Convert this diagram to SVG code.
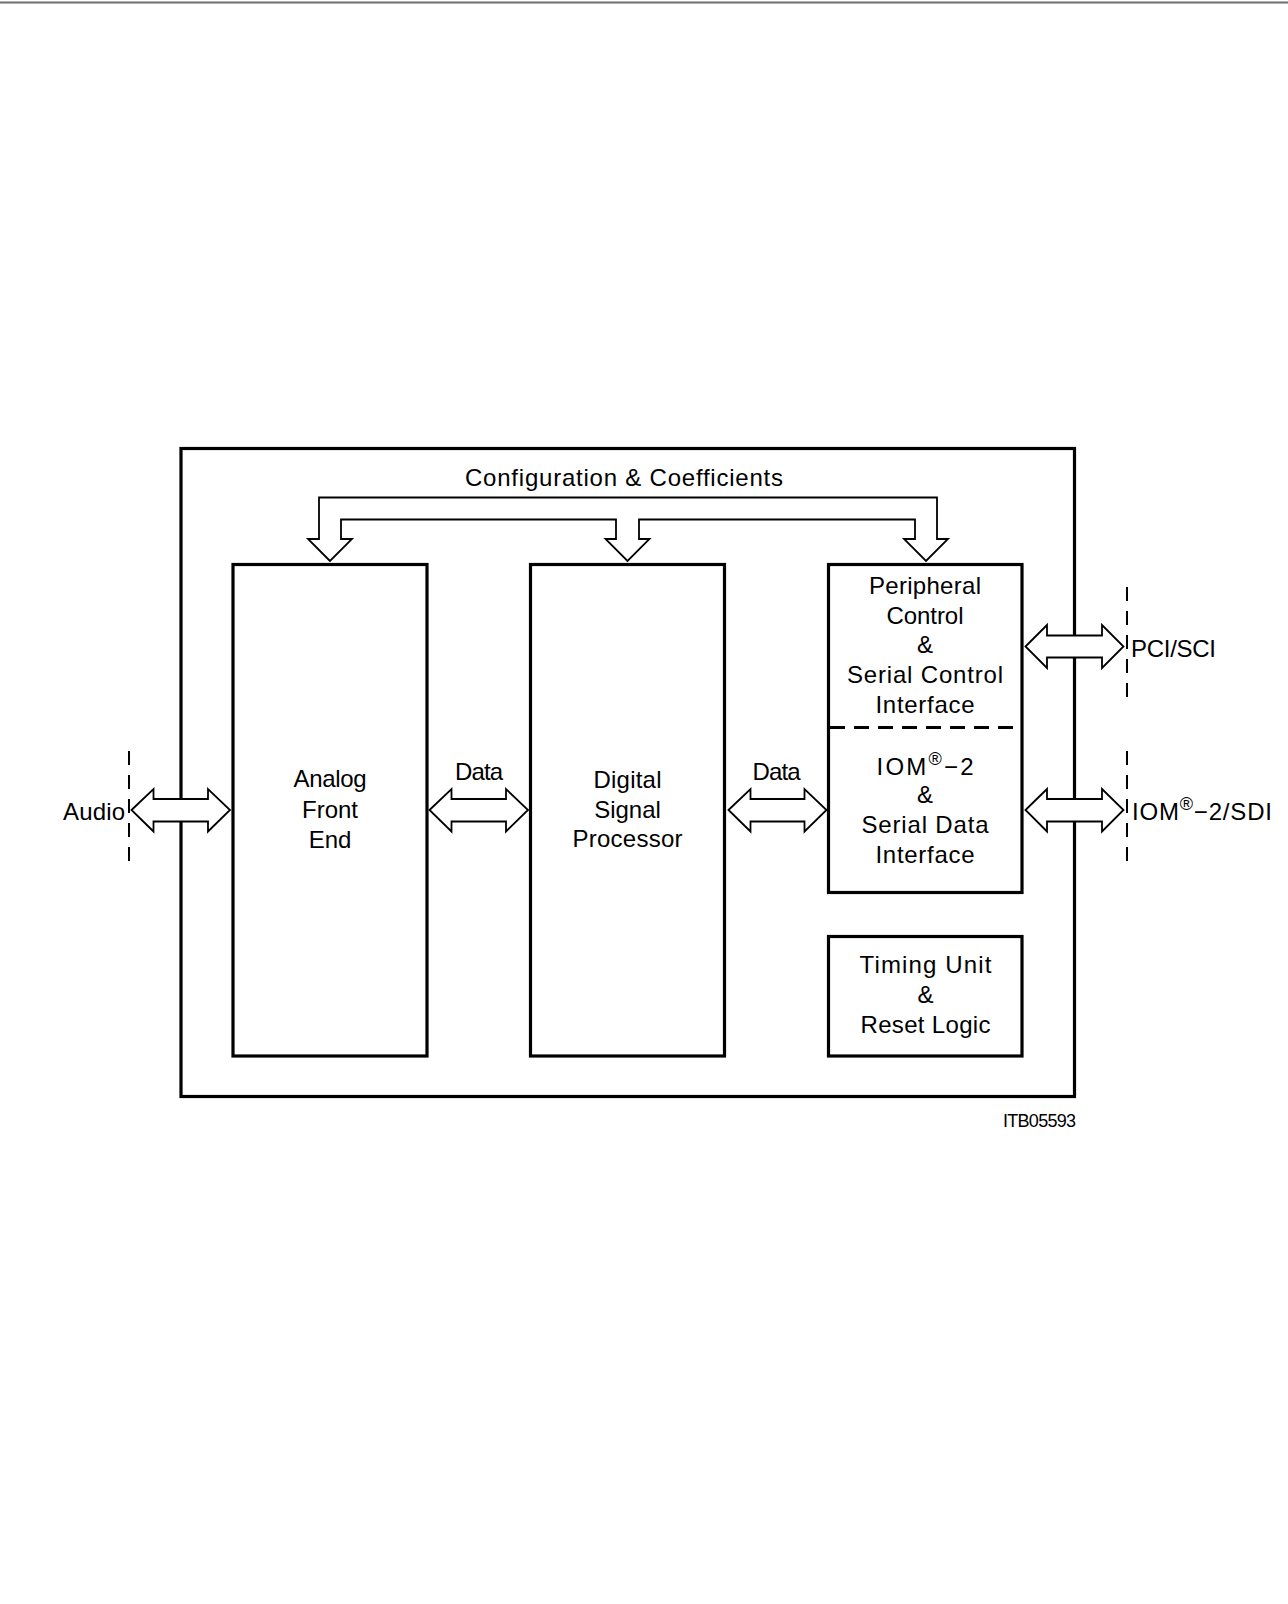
<svg xmlns="http://www.w3.org/2000/svg" width="1288" height="1604" viewBox="0 0 1288 1604">
<style>
.box{fill:none;stroke:#000;stroke-width:3.2}
.arr{fill:#fff;stroke:#000;stroke-width:1.8;stroke-linejoin:miter}
.dash{fill:none;stroke:#000;stroke-width:2;stroke-dasharray:14 10}
.sep{fill:none;stroke:#000;stroke-width:3;stroke-dasharray:15 9}
text{font-family:"Liberation Sans",Arial,sans-serif;font-size:24px;fill:#000}
.c{text-anchor:middle}
.sup{font-size:18px}
.id{font-size:18px}
</style>
<rect width="1288" height="1604" fill="#fff"/>
<line x1="0" y1="2.5" x2="1288" y2="2.5" stroke="#6e6e6e" stroke-width="2"/>

<g id="chip">
<rect class="box" x="181" y="448.5" width="893.5" height="648"/>
</g>

<g id="afe">
<rect class="box" x="233" y="564.5" width="194" height="491.5"/>
<text class="c" x="330" y="787" textLength="73">Analog</text>
<text class="c" x="330" y="818">Front</text>
<text class="c" x="330" y="848">End</text>
</g>

<g id="dsp">
<rect class="box" x="530.5" y="564.5" width="194" height="491.5"/>
<text class="c" x="627.5" y="788" textLength="68">Digital</text>
<text class="c" x="627.5" y="818">Signal</text>
<text class="c" x="627.5" y="847" textLength="110">Processor</text>
</g>

<g id="pci">
<rect class="box" x="828.5" y="564.5" width="193.5" height="328"/>
<line class="sep" x1="830" y1="727.5" x2="1020" y2="727.5"/>
<text class="c" x="925" y="594" textLength="112">Peripheral</text>
<text class="c" x="925" y="624" textLength="77">Control</text>
<text class="c" x="925" y="653">&amp;</text>
<text class="c" x="925" y="683" textLength="156">Serial  Control</text>
<text class="c" x="925" y="713" textLength="99">Interface</text>
</g>

<g id="iom">
<text class="c" x="925" y="775" textLength="97">IOM<tspan class="sup" dy="-10">®</tspan><tspan dy="10">−2</tspan></text>
<text class="c" x="925" y="803">&amp;</text>
<text class="c" x="925" y="833" textLength="127">Serial  Data</text>
<text class="c" x="925" y="863" textLength="99">Interface</text>
</g>

<g id="timing">
<rect class="box" x="828.5" y="936.5" width="193.5" height="119.5"/>
<text class="c" x="925.5" y="973" textLength="132">Timing  Unit</text>
<text class="c" x="925.5" y="1003">&amp;</text>
<text class="c" x="925.5" y="1033" textLength="130">Reset  Logic</text>
</g>

<g id="connectors">
<polygon class="arr" points="330,561 308,539 319,539 319,497.5 937,497.5 937,539 948,539 926,561 904,539 915,539 915,519.5 639,519.5 639,539 649.5,539 627.5,561 605.5,539 616,539 616,519.5 341,519.5 341,539 352,539"/>
<polygon class="arr" points="131.5,810 153.5,789 153.5,799 208,799 208,789 230,810 208,831.5 208,821.5 153.5,821.5 153.5,831.5"/>
<polygon class="arr" points="429.5,810 451.5,789 451.5,799 506,799 506,789 528,810 506,831.5 506,821.5 451.5,821.5 451.5,831.5"/>
<polygon class="arr" points="728.5,810 750.5,789 750.5,799 804.5,799 804.5,789 826.5,810 804.5,831.5 804.5,821.5 750.5,821.5 750.5,831.5"/>
<polygon class="arr" points="1025.5,646.5 1047,625 1047,635.5 1102,635.5 1102,625 1123.5,646.5 1102,668 1102,657.5 1047,657.5 1047,668"/>
<polygon class="arr" points="1025.5,810 1047,789 1047,799 1102,799 1102,789 1123.5,810 1102,831.5 1102,821.5 1047,821.5 1047,831.5"/>
<line class="dash" x1="129" y1="751" x2="129" y2="871"/>
<line class="dash" x1="1127" y1="587" x2="1127" y2="707"/>
<line class="dash" x1="1127" y1="751" x2="1127" y2="871"/>
</g>

<g id="labels">
<text class="c" x="624" y="486" textLength="318">Configuration &amp; Coefficients</text>
<text class="c" x="479" y="780" textLength="48">Data</text>
<text class="c" x="776.5" y="780" textLength="48">Data</text>
<text x="63" y="820" textLength="62">Audio</text>
<text x="1131" y="657" textLength="85">PCI/SCI</text>
<text x="1132" y="820" textLength="140">IOM<tspan class="sup" dy="-10">®</tspan><tspan dy="10">−2/SDI</tspan></text>
<text class="id" x="1003" y="1127" textLength="73">ITB05593</text>
</g>
</svg>
